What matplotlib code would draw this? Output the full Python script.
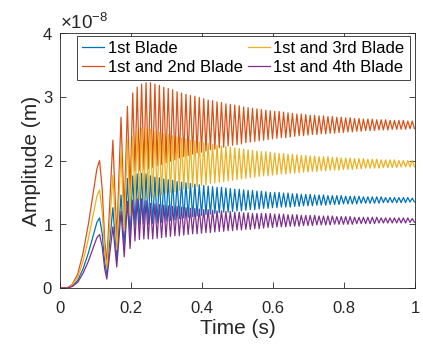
import matplotlib
matplotlib.use("Agg")
import matplotlib.pyplot as plt
import numpy as np
from matplotlib.ticker import ScalarFormatter, FuncFormatter

plt.rcParams['font.family'] = ['Liberation Sans', 'DejaVu Sans']
plt.rcParams['mathtext.fontset'] = 'custom'
plt.rcParams['mathtext.rm'] = 'Liberation Sans'
plt.rcParams['mathtext.it'] = 'Liberation Sans:italic'

SCALE = 1e-8  # amplitudes below are read in units of 1e-8 m

labels = ['1st Blade', '1st and 2nd Blade', '1st and 3rd Blade', '1st and 4th Blade']
colors = ['#0072BD', '#D95319', '#EDB120', '#7E2F8E']

# start-up transient (s)
t_start = [0, 0.02, 0.035, 0.05, 0.065, 0.08, 0.095, 0.104, 0.1115, 0.119, 0.126,
           0.132, 0.1405, 0.149, 0.1545, 0.160, 0.166, 0.172, 0.181, 0.190, 0.1975]
b1_start = [0, 0.0, 0.03, 0.12, 0.30, 0.55, 0.85, 1.03, 1.10, 0.85, 0.41,
            0.22, 0.74, 1.26, 0.86, 0.44, 0.95, 1.46, 0.64, 1.72, 0.81]
b12_start = [0, 0.0, 0.06, 0.22, 0.55, 1.0, 1.55, 1.87, 2.0, 1.55, 0.75,
             0.4, 1.36, 2.32, 1.55, 0.79, 1.74, 2.68, 1.17, 2.85, 1.48]
b13_start = [0, 0.0, 0.05, 0.17, 0.42, 0.77, 1.19, 1.44, 1.54, 1.19, 0.58,
             0.3, 1.04, 1.77, 1.19, 0.6, 1.38, 2.15, 0.9, 2.33, 1.14]
b14_start = [0, 0.0, 0.025, 0.09, 0.23, 0.42, 0.65, 0.79, 0.84, 0.65, 0.3,
             0.14, 0.55, 0.96, 0.65, 0.33, 0.77, 1.2, 0.49, 1.36, 0.62]

# oscillation: time of each peak and of the trough that follows it (s)
t_peaks = [0.2050, 0.2175, 0.2300, 0.2425, 0.2550, 0.2675, 0.2800, 0.2925, 0.3050, 0.3175,
           0.3300, 0.3425, 0.3550, 0.3675, 0.3800, 0.3925, 0.4050, 0.4175, 0.4300, 0.4425,
           0.4550, 0.4675, 0.4800, 0.4925, 0.5050, 0.5175, 0.5300, 0.5425, 0.5550, 0.5675,
           0.5800, 0.5925, 0.6050, 0.6175, 0.6300, 0.6425, 0.6550, 0.6675, 0.6800, 0.6925,
           0.7050, 0.7175, 0.7300, 0.7425, 0.7550, 0.7675, 0.7800, 0.7925, 0.8050, 0.8175,
           0.8300, 0.8425, 0.8550, 0.8675, 0.8800, 0.8925, 0.9050, 0.9175, 0.9300, 0.9425,
           0.9550, 0.9675, 0.9800, 0.9925]
t_troughs = [0.2113, 0.2238, 0.2363, 0.2488, 0.2613, 0.2738, 0.2863, 0.2988,
             0.3113, 0.3238, 0.3363, 0.3488, 0.3613, 0.3738, 0.3863, 0.3988,
             0.4113, 0.4238, 0.4363, 0.4488, 0.4613, 0.4738, 0.4863, 0.4988,
             0.5113, 0.5238, 0.5363, 0.5488, 0.5613, 0.5738, 0.5863, 0.5988,
             0.6113, 0.6238, 0.6363, 0.6488, 0.6613, 0.6738, 0.6863, 0.6988,
             0.7113, 0.7238, 0.7363, 0.7488, 0.7613, 0.7738, 0.7863, 0.7988,
             0.8113, 0.8238, 0.8363, 0.8488, 0.8613, 0.8738, 0.8863, 0.8988,
             0.9113, 0.9238, 0.9363, 0.9488, 0.9613, 0.9738, 0.9863, 0.9988]

b1_peaks = [1.76, 1.79, 1.80, 1.79, 1.76, 1.74, 1.73, 1.71, 1.70, 1.69,
            1.67, 1.66, 1.65, 1.64, 1.63, 1.62, 1.61, 1.60, 1.59, 1.58,
            1.58, 1.57, 1.56, 1.55, 1.55, 1.54, 1.53, 1.53, 1.52, 1.52,
            1.51, 1.50, 1.50, 1.50, 1.49, 1.49, 1.48, 1.48, 1.47, 1.47,
            1.47, 1.46, 1.46, 1.46, 1.45, 1.45, 1.45, 1.45, 1.44, 1.44,
            1.44, 1.44, 1.43, 1.43, 1.43, 1.43, 1.43, 1.42, 1.42, 1.42,
            1.42, 1.42, 1.42, 1.41]
b1_troughs = [0.98, 0.99, 1.00, 1.00, 1.01, 1.02, 1.03, 1.05, 1.06, 1.07,
              1.09, 1.10, 1.11, 1.12, 1.13, 1.14, 1.15, 1.16, 1.17, 1.18,
              1.19, 1.19, 1.20, 1.21, 1.21, 1.22, 1.23, 1.23, 1.24, 1.25,
              1.25, 1.26, 1.26, 1.27, 1.27, 1.27, 1.28, 1.28, 1.29, 1.29,
              1.29, 1.30, 1.30, 1.30, 1.31, 1.31, 1.31, 1.32, 1.32, 1.32,
              1.32, 1.33, 1.33, 1.33, 1.33, 1.33, 1.34, 1.34, 1.34, 1.34,
              1.34, 1.34, 1.35, 1.35]

b12_peaks = [3.06, 3.15, 3.20, 3.22, 3.22, 3.20, 3.18, 3.15, 3.13, 3.11,
             3.08, 3.06, 3.04, 3.02, 3.01, 2.99, 2.97, 2.95, 2.94, 2.92,
             2.91, 2.89, 2.88, 2.87, 2.86, 2.84, 2.83, 2.82, 2.81, 2.80,
             2.79, 2.78, 2.77, 2.77, 2.76, 2.75, 2.74, 2.73, 2.73, 2.72,
             2.71, 2.71, 2.70, 2.70, 2.69, 2.69, 2.68, 2.68, 2.67, 2.67,
             2.66, 2.66, 2.65, 2.65, 2.65, 2.64, 2.64, 2.64, 2.63, 2.63,
             2.63, 2.63, 2.62, 2.62]
b12_troughs = [1.84, 1.85, 1.86, 1.87, 1.89, 1.92, 1.94, 1.97, 1.99, 2.01,
               2.04, 2.06, 2.08, 2.10, 2.12, 2.13, 2.15, 2.17, 2.18, 2.20,
               2.21, 2.23, 2.24, 2.25, 2.26, 2.28, 2.29, 2.30, 2.31, 2.32,
               2.33, 2.34, 2.35, 2.36, 2.36, 2.37, 2.38, 2.39, 2.39, 2.40,
               2.41, 2.41, 2.42, 2.42, 2.43, 2.43, 2.44, 2.44, 2.45, 2.45,
               2.46, 2.46, 2.47, 2.47, 2.47, 2.48, 2.48, 2.48, 2.49, 2.49,
               2.49, 2.49, 2.50, 2.50]

b13_peaks = [2.38, 2.47, 2.51, 2.51, 2.49, 2.46, 2.44, 2.42, 2.41, 2.39,
             2.37, 2.35, 2.34, 2.32, 2.31, 2.29, 2.28, 2.27, 2.25, 2.24,
             2.23, 2.22, 2.21, 2.20, 2.19, 2.18, 2.17, 2.16, 2.15, 2.14,
             2.14, 2.13, 2.12, 2.11, 2.11, 2.10, 2.10, 2.09, 2.08, 2.08,
             2.07, 2.07, 2.06, 2.06, 2.06, 2.05, 2.05, 2.04, 2.04, 2.04,
             2.03, 2.03, 2.03, 2.02, 2.02, 2.02, 2.01, 2.01, 2.01, 2.01,
             2.00, 2.00, 2.00, 2.00]
b13_troughs = [1.38, 1.38, 1.39, 1.40, 1.42, 1.44, 1.46, 1.48, 1.50, 1.51,
               1.53, 1.55, 1.56, 1.58, 1.59, 1.61, 1.62, 1.64, 1.65, 1.66,
               1.67, 1.68, 1.69, 1.70, 1.71, 1.72, 1.73, 1.74, 1.75, 1.76,
               1.76, 1.77, 1.78, 1.79, 1.79, 1.80, 1.80, 1.81, 1.82, 1.82,
               1.83, 1.83, 1.84, 1.84, 1.85, 1.85, 1.85, 1.86, 1.86, 1.86,
               1.87, 1.87, 1.88, 1.88, 1.88, 1.88, 1.89, 1.89, 1.89, 1.89,
               1.90, 1.90, 1.90, 1.90]

b14_peaks = [1.38, 1.40, 1.40, 1.37, 1.33, 1.32, 1.31, 1.30, 1.29, 1.28,
             1.28, 1.27, 1.26, 1.25, 1.25, 1.24, 1.23, 1.23, 1.22, 1.21,
             1.21, 1.20, 1.20, 1.19, 1.19, 1.18, 1.18, 1.17, 1.17, 1.17,
             1.17, 1.17, 1.16, 1.16, 1.16, 1.15, 1.15, 1.15, 1.14, 1.14,
             1.14, 1.14, 1.13, 1.13, 1.13, 1.13, 1.12, 1.12, 1.12, 1.12,
             1.11, 1.11, 1.11, 1.11, 1.11, 1.11, 1.10, 1.10, 1.10, 1.10,
             1.10, 1.10, 1.10, 1.09]
b14_troughs = [0.74, 0.76, 0.77, 0.77, 0.77, 0.78, 0.79, 0.80, 0.81, 0.82,
               0.82, 0.83, 0.84, 0.85, 0.85, 0.86, 0.87, 0.87, 0.88, 0.89,
               0.89, 0.90, 0.90, 0.91, 0.91, 0.92, 0.92, 0.93, 0.93, 0.94,
               0.95, 0.95, 0.96, 0.96, 0.96, 0.97, 0.97, 0.97, 0.98, 0.98,
               0.98, 0.99, 0.99, 0.99, 0.99, 1.00, 1.00, 1.00, 1.00, 1.00,
               1.01, 1.01, 1.01, 1.01, 1.01, 1.02, 1.02, 1.02, 1.02, 1.02,
               1.02, 1.02, 1.03, 1.03]

series = [(b1_start, b1_peaks, b1_troughs),
          (b12_start, b12_peaks, b12_troughs),
          (b13_start, b13_peaks, b13_troughs),
          (b14_start, b14_peaks, b14_troughs)]

t_osc = np.column_stack([t_peaks, t_troughs]).ravel()
t = np.concatenate([t_start, t_osc])

fig = plt.figure(figsize=(4.23, 3.44), dpi=100)
ax = fig.add_axes([0.1418, 0.1628, 0.839, 0.741])

for (start, peaks, troughs), lab, col in zip(series, labels, colors):
    y = np.concatenate([start, np.column_stack([peaks, troughs]).ravel()]) * SCALE
    ax.plot(t, y, color=col, lw=0.9, label=lab)

ax.set_xlim(0, 1)
ax.set_ylim(0, 4 * SCALE)
ax.set_xticks([0, 0.2, 0.4, 0.6, 0.8, 1])
ax.xaxis.set_major_formatter(FuncFormatter(lambda v, p: '%g' % v))
fmt = ScalarFormatter(useMathText=True)
fmt.set_powerlimits((0, 0))
ax.yaxis.set_major_formatter(fmt)

for s in ax.spines.values():
    s.set_color('#262626')
    s.set_linewidth(0.6)
ax.tick_params(direction='in', length=4, width=0.6, colors='#262626',
               labelsize=12, top=True, right=True)
ax.tick_params(axis='x', pad=9.5)
ax.tick_params(axis='y', pad=5)
ax.yaxis.get_offset_text().set_fontsize(13.5)

ax.set_xlabel('Time (s)', fontsize=15, color='#262626', labelpad=2)
ax.set_ylabel('Amplitude (m)', fontsize=15, color='#262626', labelpad=1)

leg = ax.legend(ncol=2, loc='upper right', bbox_to_anchor=(0.985, 0.99),
                fontsize=12, frameon=True, fancybox=False, framealpha=1,
                edgecolor='#262626', handlelength=1.35, handletextpad=0.2,
                columnspacing=0.3, labelspacing=0.25, borderpad=0.3,
                borderaxespad=0.0)
leg.get_frame().set_linewidth(0.6)

fig.savefig('out.png', dpi=100)
